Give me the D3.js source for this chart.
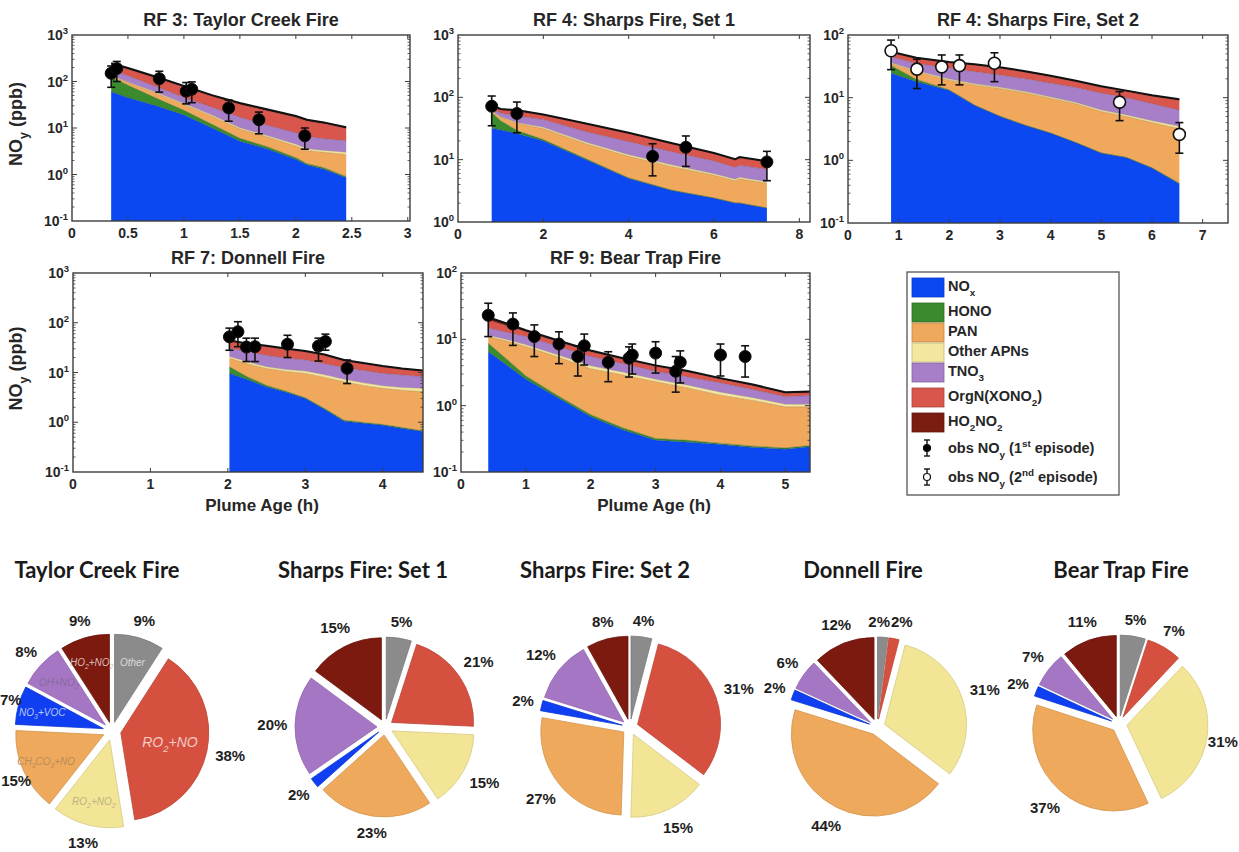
<!DOCTYPE html>
<html>
<head>
<meta charset="utf-8">
<script src="https://cdn.jsdelivr.net/npm/d3@7"></script>
<style>
  body { margin: 0; background: #fff; }
  svg { display: block; }
</style>
</head>
<body>
<svg id="fig" width="1239" height="852"></svg>
<script>
// ---------------- data ----------------
// NOy budget components, stacked bottom to top
const speciesLabels = ["NO_{x}", "HONO", "PAN", "Other APNs", "TNO_{3}", "OrgN(XONO_{2})", "HO_{2}NO_{2}"];
const speciesColors = ["#0b48f2", "#3b8a2e", "#efa85c", "#f3e79f", "#a67fc8", "#d8564c", "#7a1c10"];

// modelled components (ppb): [plume age h, NOx, HONO, PAN, other APNs, TNO3, OrgN, HO2NO2]
const rf3Model = [
  [0.35, 60, 65, 8, 3, 40, 55, 15],
  [0.50, 45, 38, 12, 3, 35, 50, 12],
  [0.75, 30, 14, 12, 2.5, 20, 40, 8],
  [1.00, 19, 5, 8, 1.5, 12, 30, 5],
  [1.25, 10, 2, 6, 1.0, 9, 20, 3],
  [1.50, 5.2, 0.8, 3.5, 0.6, 7, 15, 2.5],
  [1.75, 3.5, 0.4, 2.5, 0.4, 4.5, 12, 1.8],
  [2.00, 2.1, 0.2, 1.8, 0.35, 3.5, 9, 1.2],
  [2.10, 1.6, 0.1, 1.6, 0.3, 3.0, 7.5, 1.0],
  [2.25, 1.3, 0.1, 1.6, 0.3, 2.6, 6.5, 0.8],
  [2.45, 0.85, 0.05, 1.8, 0.3, 2.3, 4.5, 0.6]
];
const rf4aModel = [
  [0.79, 32, 25, 3, 1, 5, 6, 2],
  [1.00, 30, 12, 6, 1, 7, 7, 2],
  [1.40, 26, 3, 9, 1, 11, 10, 2],
  [2.00, 20, 1, 10.5, 1.5, 11, 8, 1],
  [3.00, 10, 0.3, 7.7, 1, 9, 9, 1],
  [4.00, 5, 0.1, 6.2, 0.7, 7.4, 6.8, 0.8],
  [5.00, 3.2, 0.05, 4.55, 0.5, 5.1, 4.6, 0.5],
  [6.00, 2.4, 0.03, 3.2, 0.3, 3.6, 3.0, 0.3],
  [6.50, 2.0, 0.02, 2.58, 0.25, 2.65, 2.4, 0.3],
  [6.60, 2.0, 0.02, 2.9, 0.28, 2.9, 2.6, 0.3],
  [7.24, 1.66, 0.02, 2.5, 0.25, 2.6, 2.1, 0.3]
];
const rf4bModel = [
  [0.85, 24.5, 8, 2.5, 1, 9, 7, 2],
  [1.35, 18, 1.5, 6.5, 1, 8, 7, 1.5],
  [2.00, 13, 0.3, 5.7, 0.8, 9.7, 6.5, 1.2],
  [2.50, 7.5, 0.1, 8.4, 0.7, 9.3, 7, 1.1],
  [3.00, 5, 0.05, 8.95, 0.6, 8.4, 6.5, 1.0],
  [3.50, 3.6, 0.03, 8.37, 0.5, 7.5, 5.5, 0.9],
  [4.00, 2.7, 0.02, 7.08, 0.45, 6.75, 4.5, 0.8],
  [4.50, 1.9, 0.02, 6.08, 0.4, 6.1, 3.5, 0.6],
  [5.00, 1.3, 0.01, 4.69, 0.35, 5.45, 2.9, 0.5],
  [5.50, 1.1, 0.01, 3.89, 0.3, 4.7, 2.5, 0.45],
  [6.00, 0.75, 0.01, 3.24, 0.28, 3.72, 2.5, 0.4],
  [6.54, 0.42, 0.01, 2.77, 0.3, 2.8, 2.8, 0.35]
];
const rf7Model = [
  [2.02, 9.6, 3.4, 6.5, 1.5, 10, 11, 2],
  [2.25, 7.2, 1.0, 6.8, 1.5, 9.5, 11, 1.5],
  [2.50, 5.1, 0.4, 6.5, 1.0, 9, 11, 1.5],
  [2.75, 4.0, 0.2, 6.3, 1.0, 8, 9.5, 1.5],
  [3.00, 3.0, 0.1, 6.5, 1.1, 7.1, 8.2, 1.0],
  [3.25, 1.8, 0.08, 6.1, 1.0, 6, 7, 1.0],
  [3.50, 1.05, 0.05, 5.4, 0.8, 5.2, 4.5, 0.8],
  [3.75, 0.95, 0.04, 4.51, 0.7, 4.8, 4, 0.6],
  [4.00, 0.87, 0.03, 3.9, 0.6, 4.2, 3.4, 0.5],
  [4.25, 0.75, 0.03, 3.62, 0.6, 3.9, 2.6, 0.5],
  [4.52, 0.65, 0.02, 3.43, 0.7, 3.5, 2.2, 0.5]
];
const rf9Model = [
  [0.42, 6.5, 2.2, 2.3, 0.5, 3.3, 4.7, 2.0],
  [0.75, 3.8, 0.8, 4.6, 0.5, 2.8, 3.0, 1.2],
  [1.00, 2.5, 0.3, 5.0, 0.5, 2.7, 2.0, 0.7],
  [1.50, 1.3, 0.1, 4.0, 0.4, 2.0, 1.4, 0.4],
  [2.00, 0.68, 0.05, 2.87, 0.4, 1.5, 1.0, 0.3],
  [2.50, 0.43, 0.03, 2.44, 0.3, 1.1, 0.7, 0.2],
  [3.00, 0.30, 0.02, 1.98, 0.2, 0.8, 0.6, 0.15],
  [3.50, 0.28, 0.02, 1.55, 0.18, 0.67, 0.5, 0.12],
  [4.00, 0.26, 0.01, 1.17, 0.16, 0.6, 0.3, 0.1],
  [4.50, 0.235, 0.01, 0.955, 0.12, 0.43, 0.25, 0.08],
  [5.00, 0.22, 0.01, 0.73, 0.09, 0.31, 0.17, 0.07],
  [5.38, 0.24, 0.01, 0.71, 0.09, 0.37, 0.15, 0.06]
];

// observed NOy (ppb): [plume age h, mean, lower bar, upper bar]
const rf3Obs = [[0.35,150,75,215],[0.40,190,100,270],[0.78,115,59,166],[1.02,62,33,95],[1.07,68,35,98],[1.40,27,14,40],[1.67,15,7.5,22],[2.08,6.8,3.5,10]];
const rf4aObs = [[0.79,72,35,105],[1.38,55,27,84],[4.56,11.3,5.5,18],[5.34,15.8,7.8,24],[7.24,9.2,4.6,13.6]];
const rf4bObs = [[0.85,56,28,83],[1.36,28.5,14,41],[1.85,31,16,48],[2.20,32.5,16,48],[2.89,35.5,18,52],[5.36,8.5,4.3,12.5],[6.54,2.6,1.3,4.0]];
const rf7Obs = [[2.02,52,28,78],[2.13,66,33,105],[2.24,32.5,16.6,49],[2.35,33,16.6,49],[2.77,37,20,56],[3.17,34,17,49],[3.26,42,28,59],[3.54,12.1,6,17.8]];
const rf9Obs = [[0.42,23,11,35],[0.80,17,8.1,25],[1.13,11,5.5,16.5],[1.51,8.5,4.3,13],[1.80,5.5,2.8,8],[1.90,8,4.1,12],[2.27,4.5,2.3,6.5],[2.59,5.2,2.7,7.7],[2.64,5.8,3.0,8.5],[3.00,6.2,3.1,9.2],[3.31,3.3,1.6,5.5],[3.38,4.5,2.2,6.7],[4.00,5.8,2.8,8.5],[4.38,5.5,2.7,8.0]];

// axis tick labels
const rf3Ticks = [0, 0.5, 1, 1.5, 2, 2.5, 3];
const rf4aTicks = [0, 2, 4, 6, 8];
const rf4bTicks = [0, 1, 2, 3, 4, 5, 6, 7];
const rf7Ticks = [0, 1, 2, 3, 4];
const rf9Ticks = [0, 1, 2, 3, 4, 5];

// NOy production pathways (% of total)
const pathwayLabels = ["Other", "RO_{2}+NO", "RO_{2}+NO_{2}", "CH_{3}CO_{3}+NO", "NO_{3}+VOC", "OH+NO_{2}", "HO_{2}+NO_{2}"];
const pathwayColors = ["#8b8b8b", "#d6503f", "#f2e596", "#eea95c", "#0f3ff0", "#a576c4", "#7c1a10"];
const taylorPct = [9, 38, 13, 15, 7, 8, 9];
const sharps1Pct = [5, 21, 15, 23, 2, 20, 15];
const sharps2Pct = [4, 31, 15, 27, 2, 12, 8];
const donnellPct = [2, 2, 31, 44, 2, 6, 12];
const bearTrapPct = [5, 7, 31, 37, 2, 7, 11];

// ---------------- drawing ----------------
const W = 1239;
const svg = d3.select("#fig");
const FONT = "'Liberation Sans', Arial, Helvetica, sans-serif";
const INK = "#262626";
const FRAME = "#3c3c3c";

// text with _{sub} and ^{sup} runs
function rich(sel, str, fs) {
  const parts = str.split(/(_\{[^}]*\}|\^\{[^}]*\})/).filter(s => s.length);
  let shift = 0;
  parts.forEach(p => {
    let target = 0, size = fs, content = p;
    if (p.startsWith("_{")) { target = 0.32 * fs; size = 0.68 * fs; content = p.slice(2, -1); }
    else if (p.startsWith("^{")) { target = -0.42 * fs; size = 0.68 * fs; content = p.slice(2, -1); }
    sel.append("tspan").attr("dy", target - shift).attr("font-size", size).text(content);
    shift = target;
  });
  return sel;
}

function label(parent, x, y, str, fs, opts = {}) {
  const t = parent.append("text")
    .attr("transform", `translate(${x},${y})` + (opts.rotate ? ` rotate(${opts.rotate})` : ""))
    .attr("font-family", opts.family || FONT)
    .attr("font-weight", opts.weight || "bold")
    .attr("font-style", opts.style || "normal")
    .attr("font-size", fs)
    .attr("fill", opts.fill || INK)
    .attr("text-anchor", opts.anchor || "middle");
  return rich(t, str, fs);
}

const panels = [
  { title: "RF 3: Taylor Creek Fire", model: rf3Model, obs: rf3Obs, open: false, ticks: rf3Ticks,
    left: 72, right: 410, top: 35, bottom: 221, xDom: [0, 3.02], yDom: [0.1, 1000], ylab: true },
  { title: "RF 4: Sharps Fire, Set 1", model: rf4aModel, obs: rf4aObs, open: false, ticks: rf4aTicks,
    left: 458, right: 810, top: 35, bottom: 222, xDom: [0, 8.25], yDom: [1, 1000] },
  { title: "RF 4: Sharps Fire, Set 2", model: rf4bModel, obs: rf4bObs, open: true, ticks: rf4bTicks,
    left: 848, right: 1228, top: 35, bottom: 223, xDom: [0, 7.5], yDom: [0.1, 100] },
  { title: "RF 7: Donnell Fire", model: rf7Model, obs: rf7Obs, open: false, ticks: rf7Ticks,
    left: 73, right: 423, top: 273, bottom: 472, xDom: [0, 4.52], yDom: [0.1, 1000], ylab: true, xlab: 262 },
  { title: "RF 9: Bear Trap Fire", model: rf9Model, obs: rf9Obs, open: false, ticks: rf9Ticks,
    left: 461, right: 810, top: 273, bottom: 472, xDom: [0, 5.38], yDom: [0.1, 100], xlab: 654 }
];

panels.forEach((p, i) => {
  const g = svg.append("g");
  const x = d3.scaleLinear().domain(p.xDom).range([p.left, p.right]);
  const y = d3.scaleLog().domain(p.yDom).range([p.bottom, p.top]);

  const clipId = "clip" + i;
  svg.append("clipPath").attr("id", clipId).append("rect")
    .attr("x", p.left).attr("y", p.top).attr("width", p.right - p.left).attr("height", p.bottom - p.top);
  const plot = g.append("g").attr("clip-path", `url(#${clipId})`);

  // cumulative stack per time step
  const rows = p.model.map(r => {
    const cum = [];
    let s = 0;
    for (let k = 1; k < r.length; k++) { s += r[k]; cum.push(s); }
    return { t: r[0], cum };
  });

  speciesColors.forEach((col, k) => {
    const area = d3.area()
      .x(d => x(d.t))
      .y0(d => k === 0 ? y(p.yDom[0]) : y(d.cum[k - 1]))
      .y1(d => y(d.cum[k]));
    plot.append("path").datum(rows).attr("d", area).attr("fill", col).attr("stroke", "none");
  });
  // layer boundaries
  speciesColors.forEach((col, k) => {
    const line = d3.line().x(d => x(d.t)).y(d => y(d.cum[k]));
    const last = k === speciesColors.length - 1;
    plot.append("path").datum(rows).attr("d", line).attr("fill", "none")
      .attr("stroke", last ? "#111" : d3.color(col).darker(1.2))
      .attr("stroke-opacity", last ? 1 : 0.55)
      .attr("stroke-width", last ? 2 : 0.7);
  });

  // observations with error bars
  const ob = plot.append("g");
  p.obs.forEach(o => {
    const cx = x(o[0]);
    ob.append("line").attr("x1", cx).attr("x2", cx).attr("y1", y(o[2])).attr("y2", y(o[3]))
      .attr("stroke", "#111").attr("stroke-width", 1.6);
    [o[2], o[3]].forEach(v => ob.append("line").attr("x1", cx - 4).attr("x2", cx + 4)
      .attr("y1", y(v)).attr("y2", y(v)).attr("stroke", "#111").attr("stroke-width", 1.6));
    ob.append("circle").attr("cx", cx).attr("cy", y(o[1])).attr("r", 6)
      .attr("fill", p.open ? "#fff" : "#000").attr("stroke", "#111").attr("stroke-width", p.open ? 1.6 : 1);
  });

  // frame and ticks
  g.append("rect").attr("x", p.left).attr("y", p.top).attr("width", p.right - p.left).attr("height", p.bottom - p.top)
    .attr("fill", "none").attr("stroke", FRAME).attr("stroke-width", 1.4);
  p.ticks.forEach(v => {
    const tx = x(v);
    if (v > p.xDom[0] && v < p.xDom[1]) {
      g.append("line").attr("x1", tx).attr("x2", tx).attr("y1", p.bottom).attr("y2", p.bottom - 4).attr("stroke", FRAME);
      g.append("line").attr("x1", tx).attr("x2", tx).attr("y1", p.top).attr("y2", p.top + 4).attr("stroke", FRAME);
    }
    label(g, tx, p.bottom + 17, String(v), 14);
  });
  const e0 = Math.round(Math.log10(p.yDom[0])), e1 = Math.round(Math.log10(p.yDom[1]));
  for (let e = e0; e <= e1; e++) {
    const ty = y(Math.pow(10, e));
    if (e > e0 && e < e1) {
      g.append("line").attr("x1", p.left).attr("x2", p.left + 5).attr("y1", ty).attr("y2", ty).attr("stroke", FRAME);
      g.append("line").attr("x1", p.right).attr("x2", p.right - 5).attr("y1", ty).attr("y2", ty).attr("stroke", FRAME);
    }
    if (e < e1) {
      for (let m = 2; m <= 9; m++) {
        const my = y(m * Math.pow(10, e));
        g.append("line").attr("x1", p.left).attr("x2", p.left + 2.5).attr("y1", my).attr("y2", my).attr("stroke", FRAME).attr("stroke-width", 0.8);
        g.append("line").attr("x1", p.right).attr("x2", p.right - 2.5).attr("y1", my).attr("y2", my).attr("stroke", FRAME).attr("stroke-width", 0.8);
      }
    }
    label(g, p.left - 4, ty + 5, `10^{${e}}`, 14, { anchor: "end" });
  }

  label(g, (p.left + p.right) / 2, p.top - 9, p.title, 18);
  if (p.ylab) label(g, 22, (p.top + p.bottom) / 2 - 4, "NO_{y} (ppb)", 18, { rotate: -90 });
  if (p.xlab) label(g, p.xlab, p.bottom + 39, "Plume Age (h)", 17);
});

// ---------------- legend ----------------
const lg = svg.append("g");
lg.append("rect").attr("x", 907).attr("y", 272).attr("width", 212).attr("height", 223)
  .attr("fill", "#fff").attr("stroke", "#555").attr("stroke-width", 1.3);
let ly = 278;
speciesLabels.forEach((s, k) => {
  lg.append("rect").attr("x", 912).attr("y", ly).attr("width", 32).attr("height", 19)
    .attr("fill", speciesColors[k]).attr("stroke", d3.color(speciesColors[k]).darker(0.6)).attr("stroke-width", 0.8);
  label(lg, 948, ly + 13, s, 14.5, { anchor: "start" });
  ly += s.includes("_{") ? 25 : 20;
});
[["obs NO_{y} (1^{st} episode)", false, 448], ["obs NO_{y} (2^{nd} episode)", true, 477]].forEach(([s, open, cy]) => {
  lg.append("line").attr("x1", 927).attr("x2", 927).attr("y1", cy - 8).attr("y2", cy + 8).attr("stroke", "#111").attr("stroke-width", 1.4);
  [cy - 8, cy + 8].forEach(v => lg.append("line").attr("x1", 924).attr("x2", 930).attr("y1", v).attr("y2", v).attr("stroke", "#111").attr("stroke-width", 1.4));
  lg.append("circle").attr("cx", 927).attr("cy", cy).attr("r", 3.5).attr("fill", open ? "#fff" : "#000").attr("stroke", "#111").attr("stroke-width", 1.2);
  label(lg, 948, cy + 5, s, 14.5, { anchor: "start" });
});

// ---------------- pies ----------------
const pies = [
  { title: "Taylor Creek Fire", values: taylorPct, cx: 112, cy: 731, r: 88, off: 9, tx: 97, inner: true },
  { title: "Sharps Fire: Set 1", values: sharps1Pct, cx: 385, cy: 727, r: 82, off: 8, tx: 363 },
  { title: "Sharps Fire: Set 2", values: sharps2Pct, cx: 630, cy: 727, r: 83, off: 8, tx: 605 },
  { title: "Donnell Fire", values: donnellPct, cx: 877, cy: 727, r: 82, off: 8, tx: 863 },
  { title: "Bear Trap Fire", values: bearTrapPct, cx: 1119, cy: 724, r: 81, off: 8, tx: 1121 }
];
const pieLayout = d3.pie().sort(null).value(d => d);

// pale caption colour inside a slice
function innerInk(col) {
  const c = d3.hsl(col);
  return c.l > 0.6 ? d3.interpolateRgb(col, "#555")(0.35) : d3.interpolateRgb(col, "#fff")(0.7);
}

pies.forEach(pc => {
  const g = svg.append("g");
  label(g, pc.tx, 578, pc.title, 22, { family: "Lato, 'Open Sans', sans-serif", fill: "#1a1a1a" });
  const arc = d3.arc().innerRadius(0).outerRadius(pc.r);
  const arcs = pieLayout(pc.values);
  const total = d3.sum(pc.values);
  const labels = [];
  arcs.forEach((a, k) => {
    const mid = (a.startAngle + a.endAngle) / 2;
    const ux = Math.sin(mid), uy = -Math.cos(mid);
    const sg = g.append("g").attr("transform", `translate(${pc.cx + pc.off * ux},${pc.cy + pc.off * uy})`);
    sg.append("path").attr("d", arc(a)).attr("fill", pathwayColors[k])
      .attr("stroke", d3.color(pathwayColors[k]).darker(0.35)).attr("stroke-width", 0.8);
    if (pc.inner) {
      const big = a.value / total > 0.25;
      const rr = (big ? 0.57 : 0.72) * pc.r;
      label(sg, rr * ux, rr * uy + 4, pathwayLabels[k], big ? 14 : 10,
        { weight: "normal", style: "italic", fill: innerInk(pathwayColors[k]) });
    }
    const text = a.value + "%";
    const halfW = text.length * 5.4, halfH = 7;
    const dist = pc.r + pc.off + 8 + halfW * 0.9 * Math.abs(ux) + halfH * Math.abs(uy);
    labels.push({ text, x: pc.cx + dist * ux, y: pc.cy + dist * uy, halfW });
  });
  // keep neighbouring percentage labels apart
  for (let k = 0; k < labels.length; k++) {
    const a = labels[k], b = labels[(k + 1) % labels.length];
    if (Math.abs(a.y - b.y) < 13) {
      const gap = a.halfW + b.halfW + 1 - Math.abs(a.x - b.x);
      if (gap > 0) {
        const dir = a.x < b.x ? 1 : -1;
        a.x -= dir * gap / 2; b.x += dir * gap / 2;
      }
    }
  }
  labels.forEach(l => {
    const lx = Math.max(l.halfW, Math.min(W - l.halfW, l.x));
    label(g, lx, l.y + 5, l.text, 15, { fill: "#1e1e1e" });
  });
});
</script>
</body>
</html>
